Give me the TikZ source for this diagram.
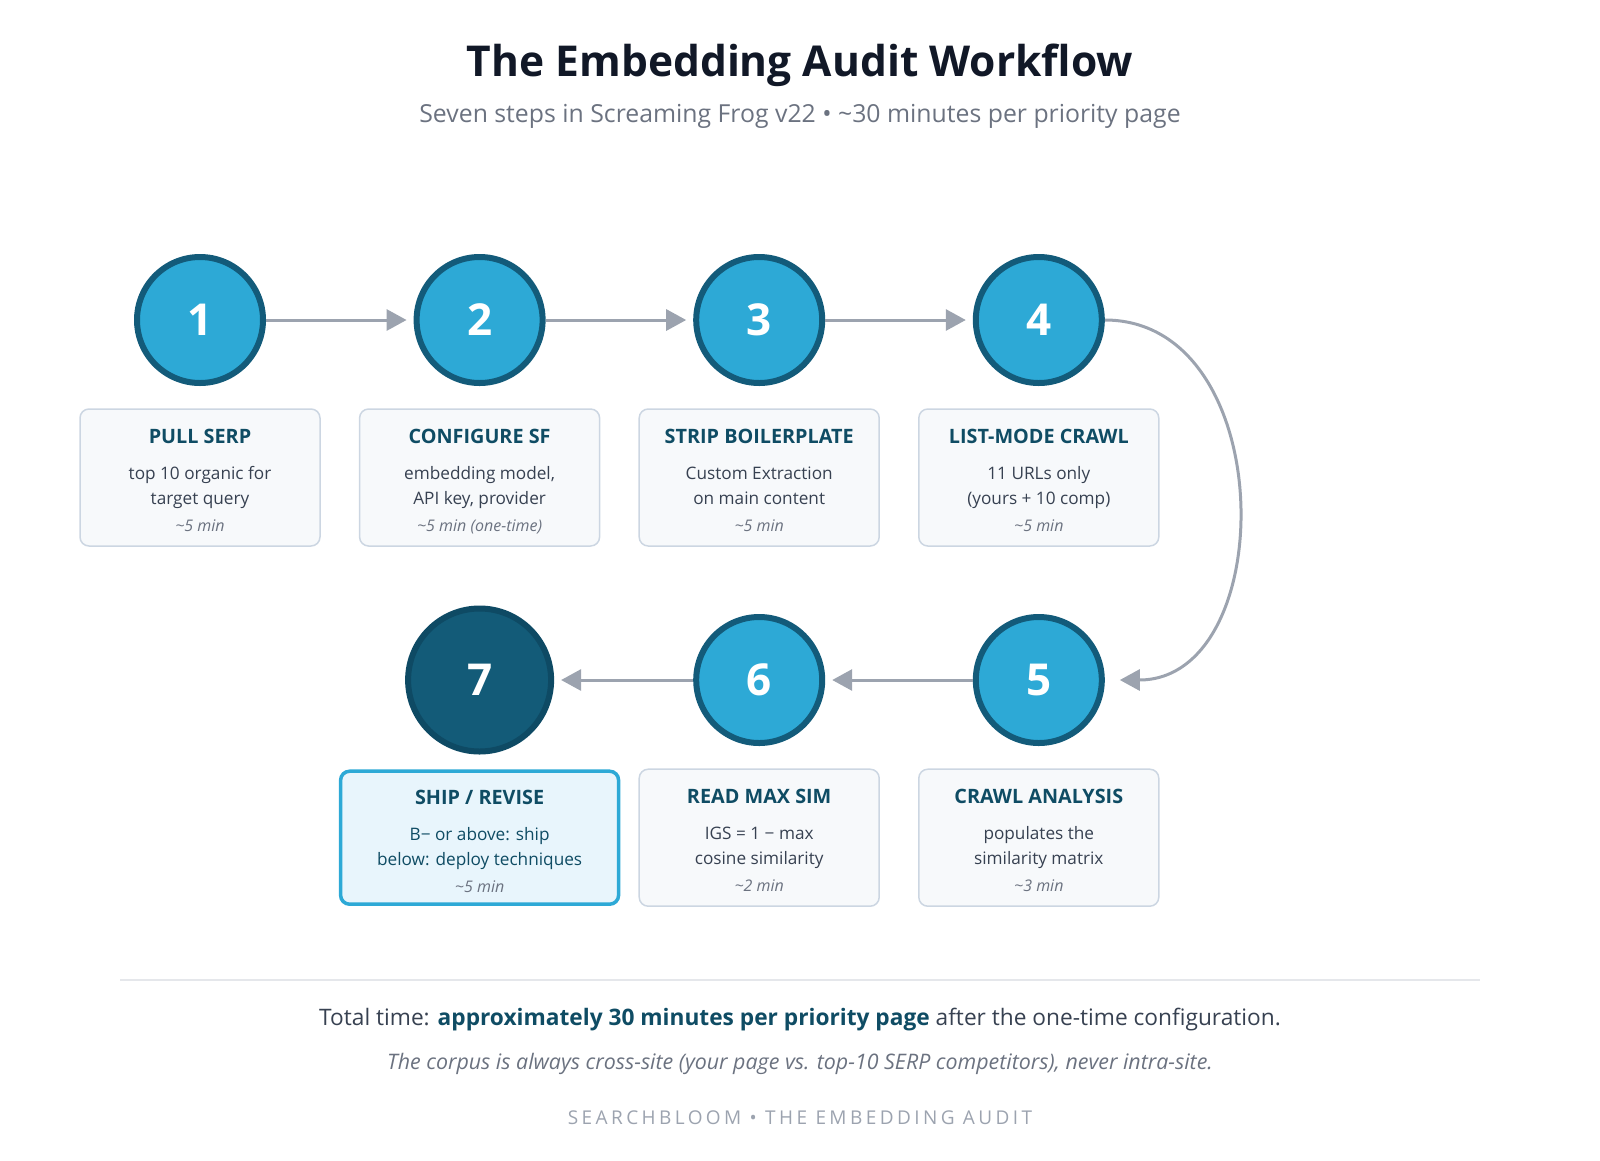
\documentclass[tikz,border=0pt]{standalone}
\usepackage{fontspec}
\setmainfont{Open Sans}
\usetikzlibrary{arrows.meta,positioning}

\definecolor{stepblue}{HTML}{2DA9D6}
\definecolor{steprim}{HTML}{135B7A}
\definecolor{shipfill}{HTML}{135B78}
\definecolor{shiprim}{HTML}{0E4A64}
\definecolor{cardfill}{HTML}{F7F9FB}
\definecolor{cardrim}{HTML}{CCD6E2}
\definecolor{shipcard}{HTML}{E8F5FC}
\definecolor{headteal}{HTML}{0F4C64}
\definecolor{bodygray}{HTML}{374151}
\definecolor{timegray}{HTML}{6B7280}
\definecolor{arrowgray}{HTML}{9CA3AF}
\definecolor{titleink}{HTML}{111827}
\definecolor{rulegray}{HTML}{E5E7EB}

\tikzset{
  stepnode/.style={circle, fill=stepblue, draw=steprim, line width=6pt,
    minimum size=126pt, inner sep=0pt, text=white,
    font=\fontsize{44}{44}\selectfont\bfseries},
  shipnode/.style={stepnode, fill=shipfill, draw=shiprim, minimum size=143pt},
  card/.style={rectangle, rounded corners=9pt, fill=cardfill, draw=cardrim,
    line width=1.5pt, minimum width=240pt, minimum height=137pt},
  shipbox/.style={card, fill=shipcard, draw=stepblue, line width=3.5pt,
    minimum width=278pt, minimum height=133pt},
  cardhead/.style={anchor=base, inner sep=0pt, text=headteal,
    font=\fontsize{19.8}{19.8}\selectfont\bfseries},
  cardline/.style={anchor=base, inner sep=0pt, text=bodygray,
    font=\fontsize{17.2}{17.2}\selectfont},
  cardtime/.style={anchor=base, inner sep=0pt, text=timegray,
    font=\fontsize{16}{16}\selectfont\itshape},
  flow/.style={draw=arrowgray, line width=3pt,
    -{Triangle[length=20pt,width=21pt]}, shorten >=7pt},
}

\begin{document}
\begin{tikzpicture}[x=1pt,y=-1pt]
\useasboundingbox (0,0) rectangle (1600,1160);

% heading
\node[anchor=base, text=titleink, font=\fontsize{42.5}{42.5}\selectfont\bfseries]
  (title) at (800,76) {The Embedding Audit Workflow};
\node[anchor=base, text=timegray, font=\fontsize{24.8}{24.8}\selectfont]
  (subtitle) at (800,122) {Seven steps in Screaming Frog v22 • \textasciitilde30 minutes per priority page};

% steps
\foreach \i/\x/\y in {1/200/320, 2/479.6/320, 3/759.2/320, 4/1038.8/320,
                      5/1038.8/680, 6/759.2/680} {
  \node[stepnode] (s\i) at (\x,\y) {\i};
}
\node[shipnode] (s7) at (479.6,680) {7};

% cards
\foreach \i/\x/\y in {1/200/477.5, 2/479.6/477.5, 3/759.2/477.5, 4/1038.8/477.5,
                      5/1038.8/837.7, 6/759.2/837.7} {
  \node[card] (k\i) at (\x,\y) {};
}
\node[shipbox] (k7) at (479.6,837.7) {};

\foreach \i/\head/\la/\lb/\tm in {
  1/{PULL SERP}/{top 10 organic for}/{target query}/{\textasciitilde5 min},
  2/{CONFIGURE SF}/{embedding model,}/{API key, provider}/{\textasciitilde5 min (one-time)},
  3/{STRIP BOILERPLATE}/{Custom Extraction}/{on main content}/{\textasciitilde5 min},
  4/{LIST-MODE CRAWL}/{11 URLs only}/{(yours + 10 comp)}/{\textasciitilde5 min},
  5/{CRAWL ANALYSIS}/{populates the}/{similarity matrix}/{\textasciitilde3 min},
  6/{READ MAX SIM}/{IGS = 1 − max}/{cosine similarity}/{\textasciitilde2 min}} {
  \node[cardhead, below=35pt of k\i.north, anchor=base] (h\i) {\head};
  \node[cardline, below=71.5pt of k\i.north, anchor=base] (a\i) {\la};
  \node[cardline, below=96pt of k\i.north, anchor=base] (b\i) {\lb};
  \node[cardtime, below=123.5pt of k\i.north, anchor=base] (t\i) {\tm};
}
\node[cardhead, below=35pt of k7.north, anchor=base] (h7) {SHIP / REVISE};
\node[cardline, text=headteal, below=71.5pt of k7.north, anchor=base] (a7) {B− or above: ship};
\node[cardline, text=headteal, below=96pt of k7.north, anchor=base] (b7) {below: deploy techniques};
\node[cardtime, below=123.5pt of k7.north, anchor=base] (t7) {\textasciitilde5 min};

% connectors
\foreach \a/\b in {s1/s2, s2/s3, s3/s4, s5/s6, s6/s7} {
  \draw[flow] (\a) -- (\b);
}
\draw[flow, shorten >=15pt] (s4.east) to[out=0, in=0, looseness=1.25] (s5.east);

% footer
\draw[rulegray, line width=2pt] (120,980) -- (1480,980);
\node[anchor=base, text=bodygray, font=\fontsize{22.7}{22.7}\selectfont]
  (total) at (800,1025.5) {Total time: \textcolor{headteal}{\bfseries approximately 30 minutes per priority page} after the one-time configuration.};
\node[anchor=base, text=timegray, font=\fontsize{21.4}{21.4}\selectfont\itshape]
  (corpus) at (800,1069) {The corpus is always cross-site (your page vs. top-10 SERP competitors), never intra-site.};
\node[anchor=base, text=arrowgray, font=\fontsize{19}{19}\selectfont\addfontfeatures{LetterSpace=18}]
  (brand) at (800,1124.5) {SEARCHBLOOM • THE EMBEDDING AUDIT};
\end{tikzpicture}
\end{document}
